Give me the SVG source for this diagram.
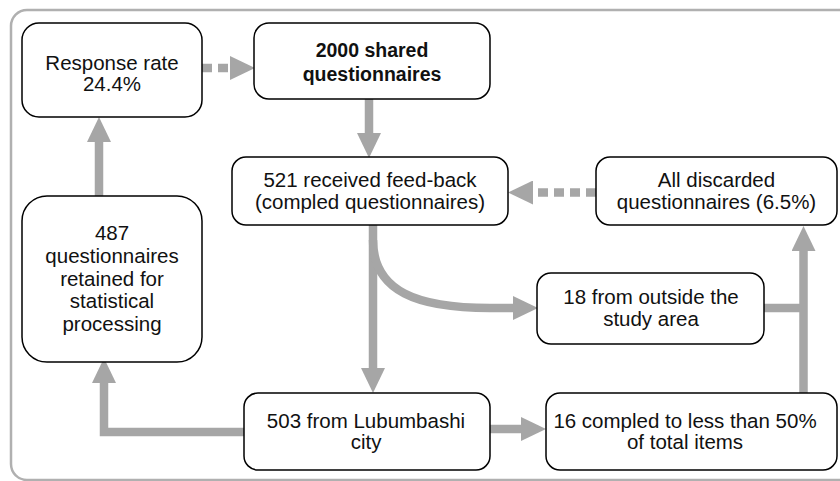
<svg xmlns="http://www.w3.org/2000/svg" width="840" height="481" viewBox="0 0 840 481">
<defs>
<marker id="ah" viewBox="0 -12 25 24" refX="0" refY="0" markerUnits="userSpaceOnUse" markerWidth="25" markerHeight="24" orient="auto">
<path d="M0,-12 L25,0 L0,12 z" fill="#a6a6a6"/>
</marker>
</defs>
<style>
.box{fill:#fff;stroke:#000;stroke-width:1.5}
.t{font-family:"Liberation Sans",Arial,sans-serif;font-size:20.5px;fill:#111;text-anchor:middle}
.b{font-weight:bold;font-size:19.5px}
.c{fill:none;stroke:#a6a6a6;stroke-width:8.5}
.d{stroke-dasharray:10 6}
</style>
<rect x="11" y="10" width="845" height="470" rx="16" fill="#fff" stroke="#b0b0b0" stroke-width="2.5"/>
<g id="connectors">
<path class="c d" d="M202,68 H230" marker-end="url(#ah)"/>
<path class="c" d="M369,99 V133" marker-end="url(#ah)"/>
<path class="c" d="M373,225 V368" marker-end="url(#ah)"/>
<path class="c" d="M373,240 C373,292 418,308 490,308 L513,308" marker-end="url(#ah)"/>
<path class="c" d="M244,432 H104 V383" marker-end="url(#ah)"/>
<path class="c" d="M99,196 V142" marker-end="url(#ah)"/>
<path class="c" d="M490,429 H521" marker-end="url(#ah)"/>
<path class="c" d="M764,308 H803"/>
<path class="c" d="M803.5,393 V251" marker-end="url(#ah)"/>
<path class="c d" d="M596,192.5 H533" marker-end="url(#ah)"/>
</g>
<g id="n-response">
<rect class="box" x="22" y="23" width="180" height="94" rx="17"/>
<text class="t" x="112" y="70">Response rate</text>
<text class="t" x="112" y="91">24.4%</text>
</g>
<g id="n-shared">
<rect class="box" x="254" y="23" width="236" height="76" rx="15"/>
<text class="t b" x="372" y="57">2000 shared</text>
<text class="t b" x="372" y="81">questionnaires</text>
</g>
<g id="n-received">
<rect class="box" x="232" y="157" width="276" height="68" rx="14"/>
<text class="t" x="370" y="187">521 received feed-back</text>
<text class="t" x="370" y="209">(compled questionnaires)</text>
</g>
<g id="n-discarded">
<rect class="box" x="596" y="157" width="241" height="68" rx="14"/>
<text class="t" x="716.5" y="187">All discarded</text>
<text class="t" x="716.5" y="209">questionnaires (6.5%)</text>
</g>
<g id="n-retained">
<rect class="box" x="22" y="196" width="180" height="166" rx="25"/>
<text class="t" x="112" y="240">487</text>
<text class="t" x="112" y="263">questionnaires</text>
<text class="t" x="112" y="285.5">retained for</text>
<text class="t" x="112" y="308">statistical</text>
<text class="t" x="112" y="331">processing</text>
</g>
<g id="n-outside">
<rect class="box" x="537" y="273" width="227" height="71" rx="14"/>
<text class="t" x="651" y="304">18 from outside the</text>
<text class="t" x="651" y="326">study area</text>
</g>
<g id="n-lubumbashi">
<rect class="box" x="244" y="393" width="246" height="77" rx="14"/>
<text class="t" x="366" y="428">503 from Lubumbashi</text>
<text class="t" x="366" y="449">city</text>
</g>
<g id="n-incomplete">
<rect class="box" x="546" y="393" width="291" height="77" rx="14"/>
<text class="t" x="685" y="428">16 compled to less than 50%</text>
<text class="t" x="685" y="449">of total items</text>
</g>
</svg>
